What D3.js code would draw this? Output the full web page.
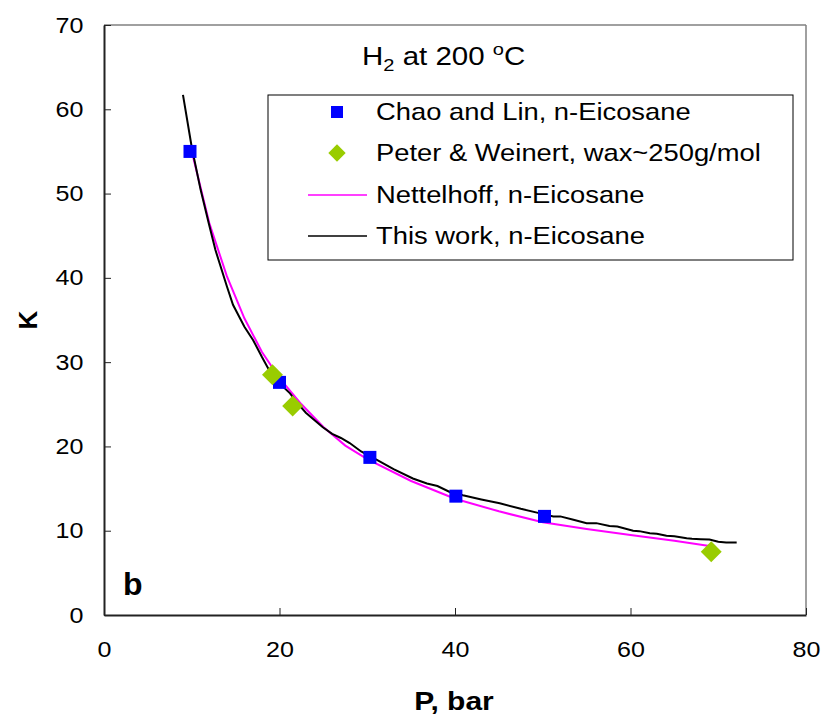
<!DOCTYPE html>
<html>
<head>
<meta charset="utf-8">
<script src="https://cdn.jsdelivr.net/npm/d3@7/dist/d3.min.js"></script>
<style>
  body { margin: 0; background: #fff; }
  text { font-family: "Liberation Sans", Arial, sans-serif; }
</style>
</head>
<body>
<div id="chart"></div>
<script>
// Chao and Lin, n-Eicosane (squares)
const chaoP = [9.8, 20.0, 30.3, 40.1, 50.2];
const chaoK = [55.0, 27.6, 18.7, 14.1, 11.7];

// Peter & Weinert, wax~250g/mol (diamonds)
const peterP = [19.2, 21.5, 69.2];
const peterK = [28.5, 24.8, 7.5];

// Nettelhoff, n-Eicosane (line)
const nettP = [10, 12, 14, 16, 18, 20, 22.5, 25, 27.5, 30, 35, 40, 45, 50, 55, 60, 65, 69];
const nettK = [55, 46.5, 40.2, 35.2, 31.2, 28.1, 25.0, 22.3, 20.1, 18.5, 15.9, 13.8, 12.3, 11.0, 10.2, 9.5, 8.8, 8.2];

// This work, n-Eicosane (line)
const workP = [9.0, 10, 11, 12, 12.7, 14, 14.7, 16, 17, 18, 18.9, 20, 21.2, 22, 23, 24.9, 26, 27, 28, 29.3,
  31.1, 33, 35.2, 36.8, 38, 39.4, 40.9, 43, 45.1, 47.5, 49.7, 51.2, 52, 53.5, 55, 56.1, 57.6, 58.5,
  60.3, 61, 62.2, 63, 64.1, 65, 66.4, 67, 68, 69, 70, 70.9, 72.1];
const workK = [61.7, 55.5, 50.5, 46.2, 43.3, 39.0, 36.8, 34.2, 32.6, 30.6, 28.9, 27.5, 26.3, 25.2, 24.0, 22.3, 21.5, 21.0, 20.4, 19.4,
  18.4, 17.3, 16.2, 15.6, 15.3, 14.6, 14.2, 13.7, 13.25, 12.6, 12.06, 11.7, 11.7, 11.3, 10.9, 10.9, 10.55, 10.5,
  10.0, 9.95, 9.7, 9.65, 9.4, 9.35, 9.1, 9.05, 9.0, 8.95, 8.7, 8.6, 8.6];

const xTicks = [0, 20, 40, 60, 80];
const yTicks = [0, 10, 20, 30, 40, 50, 60, 70];

const legendLabels = ["Chao and Lin, n-Eicosane", "Peter & Weinert, wax~250g/mol", "Nettelhoff, n-Eicosane", "This work, n-Eicosane"];

const width = 827, height = 720;
const margin = {top: 25, right: 21, bottom: 105, left: 104};
const innerW = width - margin.left - margin.right;
const innerH = height - margin.top - margin.bottom;
const stretch = 1.14; // the original text is a bit wide

const svg = d3.select("#chart").append("svg")
  .attr("width", width)
  .attr("height", height);

const chart = svg.append("g")
  .attr("transform", `translate(${margin.left},${margin.top})`);

const x = d3.scaleLinear().domain([0, 80]).range([0, innerW]);
const y = d3.scaleLinear().domain([0, 70]).range([innerH, 0]);

// frame: top/right gray, left/bottom dark
chart.append("line").attr("x1", 0).attr("x2", innerW).attr("y1", 0).attr("y2", 0)
  .attr("stroke", "#808080").attr("stroke-width", 1.5);
chart.append("line").attr("x1", innerW).attr("x2", innerW).attr("y1", 0).attr("y2", innerH)
  .attr("stroke", "#808080").attr("stroke-width", 1.5);

const xAxis = d3.axisBottom(x).tickValues(xTicks).tickSizeInner(-7).tickSizeOuter(0).tickPadding(26);
const yAxis = d3.axisLeft(y).tickValues(yTicks).tickSizeInner(-7).tickSizeOuter(0).tickPadding(18);

const gx = chart.append("g").attr("transform", `translate(0,${innerH})`).call(xAxis);
const gy = chart.append("g").call(yAxis);

[gx, gy].forEach(g => {
  g.select(".domain").attr("stroke", "#222").attr("stroke-width", 2);
  g.selectAll(".tick line").attr("stroke", "#222").attr("stroke-width", 1);
  g.selectAll(".tick text")
    .attr("fill", "#000")
    .attr("transform", `scale(${stretch},1)`)
    .style("font-family", "'Liberation Sans', Arial, sans-serif")
    .style("font-size", "22px");
});
gx.selectAll(".tick text").attr("dy", "0.71em");

// lines
const line = d3.line().x(d => x(d[0])).y(d => y(d[1]));

chart.append("path")
  .datum(nettP.map((p, i) => [p, nettK[i]]))
  .attr("fill", "none")
  .attr("stroke", "#FF00FF")
  .attr("stroke-width", 2)
  .attr("d", line);

chart.append("path")
  .datum(workP.map((p, i) => [p, workK[i]]))
  .attr("fill", "none")
  .attr("stroke", "#000")
  .attr("stroke-width", 2)
  .attr("d", line);

// markers
chart.selectAll(".chao")
  .data(chaoP.map((p, i) => [p, chaoK[i]]))
  .enter().append("rect")
  .attr("class", "chao")
  .attr("x", d => x(d[0]) - 6.5)
  .attr("y", d => y(d[1]) - 6.5)
  .attr("width", 13)
  .attr("height", 13)
  .attr("fill", "#0000FF");

const diamond = d3.symbol().type(d3.symbolSquare).size(220);
chart.selectAll(".peter")
  .data(peterP.map((p, i) => [p, peterK[i]]))
  .enter().append("path")
  .attr("class", "peter")
  .attr("transform", d => `translate(${x(d[0])},${y(d[1])}) rotate(45)`)
  .attr("d", diamond)
  .attr("fill", "#99CC00");

// legend
const legend = svg.append("g").attr("transform", "translate(268,95)");
legend.append("rect")
  .attr("width", 525).attr("height", 165)
  .attr("fill", "#fff").attr("stroke", "#000").attr("stroke-width", 1);

const rowY = [17, 58, 100, 141];
legendLabels.forEach((lab, i) => {
  const g = legend.append("g").attr("transform", `translate(0,${rowY[i]})`);
  if (i === 0) {
    g.append("rect").attr("x", 63).attr("y", -6).attr("width", 12).attr("height", 12).attr("fill", "#0000FF");
  } else if (i === 1) {
    g.append("path").attr("transform", "translate(69,0) rotate(45)")
      .attr("d", d3.symbol().type(d3.symbolSquare).size(150)).attr("fill", "#99CC00");
  } else {
    g.append("line").attr("x1", 40).attr("x2", 99).attr("y1", 0).attr("y2", 0)
      .attr("stroke", i === 2 ? "#FF00FF" : "#000").attr("stroke-width", 1.5);
  }
  g.append("text")
    .attr("transform", `translate(108,0) scale(${stretch},1)`)
    .attr("dy", "0.35em")
    .style("font-size", "24px")
    .text(lab);
});

// title
const title = svg.append("text")
  .attr("transform", "translate(362,65) scale(1.18,1)")
  .style("font-size", "25px");
title.append("tspan").text("H");
title.append("tspan").attr("dy", 6).style("font-size", "17px").text("2");
title.append("tspan").attr("dy", -6).text(" at 200 ");
title.append("tspan").attr("dy", -10).style("font-size", "17px").text("o");
title.append("tspan").attr("dy", 10).text("C");

// panel letter
svg.append("text")
  .attr("x", 123).attr("y", 595)
  .style("font-size", "32px").style("font-weight", "bold")
  .text("b");

// axis labels
svg.append("text")
  .attr("transform", `translate(${margin.left + x(40) - 1},710) scale(1.2,1)`)
  .attr("text-anchor", "middle")
  .style("font-size", "25px").style("font-weight", "bold")
  .text("P, bar");

svg.append("text")
  .attr("transform", `translate(37,${margin.top + y(35)}) rotate(-90)`)
  .attr("text-anchor", "middle")
  .style("font-size", "26px").style("font-weight", "bold")
  .text("K");
</script>
</body>
</html>
